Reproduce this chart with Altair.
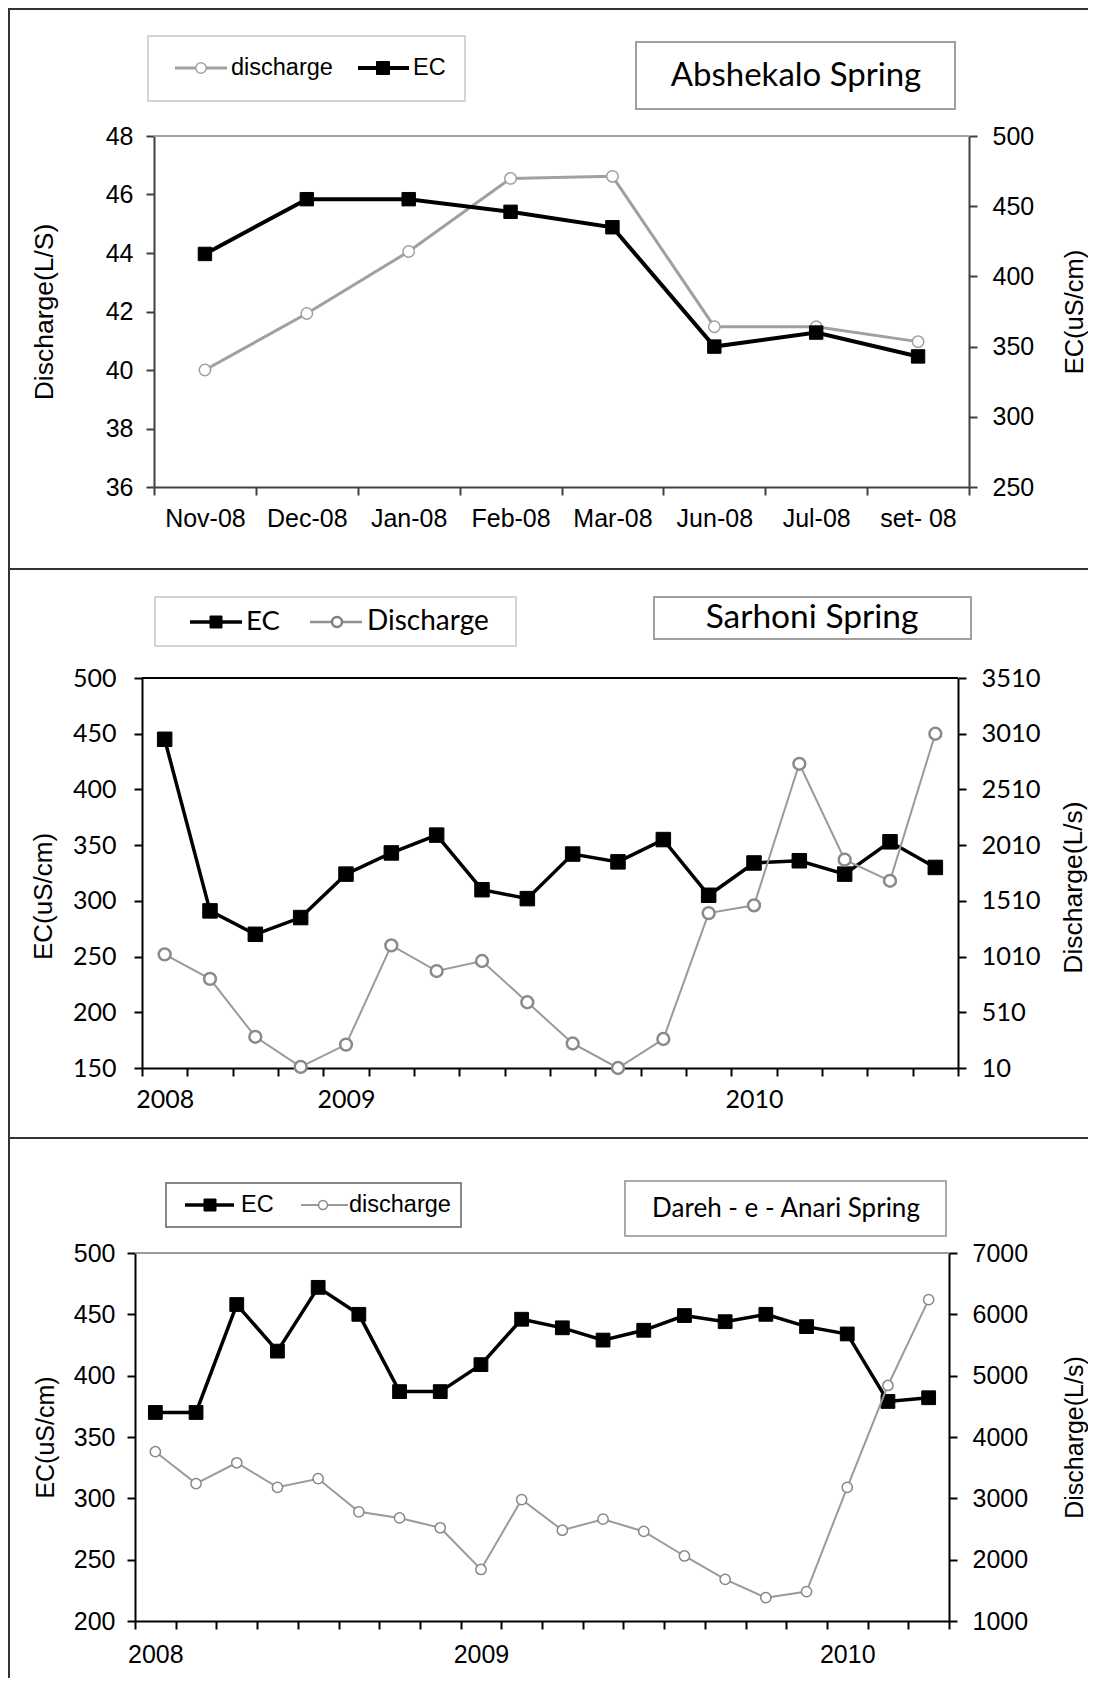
import altair as alt
import pandas as pd

# ---------------- data ----------------
abs_months = ["Nov-08", "Dec-08", "Jan-08", "Feb-08", "Mar-08", "Jun-08", "Jul-08", "set- 08"]
abs_discharge = [40.0, 41.93, 44.05, 46.55, 46.62, 41.48, 41.48, 40.97]
abs_ec = [416, 455, 455, 446, 435, 350, 360, 343]

sar_ec = [445, 291, 270, 285, 324, 343, 359, 310, 302, 342, 335, 355, 305, 334, 336, 324, 353, 330]
sar_discharge = [1030, 810, 290, 20, 220, 1110, 880, 970, 600, 230, 10, 270, 1400, 1470, 2740, 1880, 1690, 3010]
sar_tick_pos = [0, 4, 13]
sar_tick_labels = ["2008", "2009", "2010"]

dar_ec = [370, 370, 458, 420, 472, 450, 387, 387, 409, 446, 439, 429, 437, 449, 444, 450, 440, 434, 379, 382]
dar_discharge = [3760, 3240, 3580, 3180, 3320, 2780, 2680, 2520, 1840, 2980, 2480, 2660, 2460, 2060, 1680,
                 1380, 1480, 3180, 4840, 6240]
dar_tick_pos = [0, 8, 17]
dar_tick_labels = ["2008", "2009", "2010"]

abs_left_ticks = [36, 38, 40, 42, 44, 46, 48]
abs_right_ticks = [250, 300, 350, 400, 450, 500]
sar_left_ticks = [150, 200, 250, 300, 350, 400, 450, 500]
sar_right_ticks = [10, 510, 1010, 1510, 2010, 2510, 3010, 3510]
dar_left_ticks = [200, 250, 300, 350, 400, 450, 500]
dar_right_ticks = [1000, 2000, 3000, 4000, 5000, 6000, 7000]

# ---------------- layout helpers ----------------
ARIAL = "Liberation Sans"
CALIBRI = "Lato"
X0, XR = 135, 969          # page x of the common group origin / right edge
W = XR - X0
PAGE_RIGHT = 1088
one = pd.DataFrame({"k": [0]})


def label_expr(pos, labels):
    parts = [f"datum.value === {p} ? '{l}'" for p, l in zip(pos, labels)]
    return " : ".join(parts) + " : ''"


class Deco:
    def __init__(self, y0):
        self.y0 = y0

    def rect(self, x1, x2, y1, y2, fill, stroke=None, sw=0):
        kw = dict(fill=fill)
        if stroke:
            kw.update(stroke=stroke, strokeWidth=sw)
        return alt.Chart(one).mark_rect(**kw).encode(
            x=alt.value(x1 - X0), x2=alt.value(x2 - X0),
            y=alt.value(y1 - self.y0), y2=alt.value(y2 - self.y0))

    def text(self, s, x, y, font, size, align="left"):
        return alt.Chart(one).mark_text(text=s, font=font, fontSize=size, align=align,
                                        baseline="middle", color="black").encode(
            x=alt.value(x - X0), y=alt.value(y - self.y0))

    def hline(self, x1, x2, y, color, sw):
        return alt.Chart(one).mark_rule(color=color, strokeWidth=sw).encode(
            x=alt.value(x1 - X0), x2=alt.value(x2 - X0), y=alt.value(y - self.y0))

    def marker(self, x, y, shape, size, fill, stroke, sw):
        return alt.Chart(one).mark_point(shape=shape, size=size, filled=True, fill=fill, stroke=stroke,
                                         strokeWidth=sw, opacity=1).encode(
            x=alt.value(x - X0), y=alt.value(y - self.y0))


def x_enc(n, xl, xr, pos, labels, font, size, color, pad):
    vals = sorted([i - 0.5 for i in range(n + 1)] + list(pos))
    axis = alt.Axis(values=vals, labelExpr=label_expr(pos, labels),
                    tickOpacity={"condition": {"test": "datum.value % 1 !== 0", "value": 1}, "value": 0},
                    tickSize=8, tickWidth=2, tickColor=color, domainColor=color, domainWidth=2,
                    labelFont=font, labelFontSize=size, labelColor="black", labelPadding=pad,
                    labelBaseline="middle", labelOverlap=False, labelFlush=False, grid=False, title=None)
    return alt.X("idx:Q", scale=alt.Scale(domain=[-0.5, n - 0.5], range=[xl - X0, xr - X0], nice=False, zero=False),
                 axis=axis)


def y_axis(orient, values, font, size, color, offset, pad, title, tsize, tx, ty):
    return alt.Axis(orient=orient, values=values, format="d", offset=offset, grid=False, domainColor=color,
                    domainWidth=2, tickColor=color, tickWidth=2, tickSize=8, labelFont=font, labelFontSize=size,
                    labelColor="black", labelPadding=pad, labelFlush=False, labelOverlap=False,
                    title=title, titleFont=ARIAL, titleFontSize=tsize, titleFontWeight="normal",
                    titleColor="black", titleAngle=270, titleAlign="center", titleBaseline="middle",
                    titleX=tx, titleY=ty)


def series(df, field, xenc, dom, axis, lcolor, lw, shape, size, fill, stroke, sw):
    y = alt.Y(f"{field}:Q", scale=alt.Scale(domain=dom, nice=False, zero=False), axis=axis)
    line = alt.Chart(df).mark_line(color=lcolor, strokeWidth=lw).encode(x=xenc, y=y)
    pts = alt.Chart(df).mark_point(shape=shape, size=size, filled=True, fill=fill, stroke=stroke,
                                   strokeWidth=sw, opacity=1).encode(x=xenc, y=y)
    return alt.layer(line, pts)


def borders(d, top, nxt):
    return [d.rect(8, PAGE_RIGHT, top - 1, top + 1, "#333333"),
            d.rect(8, 10, top - 1, nxt - 1, "#333333")]


# ---------------- panel 1 : Abshekalo ----------------
Y1, H1 = 136, 351
L1 = 154
d1 = Deco(Y1)
df1 = pd.DataFrame({"idx": range(len(abs_months)), "dis": abs_discharge, "ec": abs_ec})
xe1 = x_enc(len(abs_months), L1, 969, list(range(len(abs_months))), abs_months, ARIAL, 25, "#404040", 23)
s1a = series(df1, "dis", xe1, [36, 48],
             y_axis("left", abs_left_ticks, ARIAL, 25, "#404040", -(L1 - X0), 13, "Discharge(L/S)", 26.5, -110, H1 / 2),
             "#a0a0a0", 3, "circle", 130, "white", "#a0a0a0", 1.5)
s1b = series(df1, "ec", xe1, [250, 500],
             y_axis("right", abs_right_ticks, ARIAL, 25, "#404040", 0, 15, "EC(uS/cm)", 25.5, 105, H1 / 2),
             "black", 4, "square", 180, "black", "black", 1)
p1 = alt.layer(
    *borders(d1, 9, 569),
    d1.rect(L1, 969, Y1 - 1, Y1 + 1, "#a0a0a0"),
    d1.rect(148, 465, 36, 101, "white", "#c8c8c8", 1.5),
    d1.hline(175, 227, 68, "#a0a0a0", 3),
    d1.marker(201, 68, "circle", 110, "white", "#a0a0a0", 1.5),
    d1.text("discharge", 231, 68, ARIAL, 23.5),
    d1.hline(358, 409, 68, "black", 4),
    d1.marker(383, 68, "square", 169, "black", "black", 1),
    d1.text("EC", 413, 68, ARIAL, 23.5),
    d1.rect(636, 955, 42, 109, "white", "#a0a0a0", 2),
    d1.text("Abshekalo Spring", 796, 76, CALIBRI, 33, "center"),
    s1a, s1b,
).resolve_scale(y="independent").properties(width=W, height=H1)

# ---------------- panel 2 : Sarhoni ----------------
Y2, H2 = 678, 390
L2, R2 = 142, 958
d2 = Deco(Y2)
df2 = pd.DataFrame({"idx": range(len(sar_ec)), "ec": sar_ec, "dis": sar_discharge})
xe2 = x_enc(len(sar_ec), L2, R2, sar_tick_pos, sar_tick_labels, CALIBRI, 25, "black", 23)
s2a = series(df2, "ec", xe2, [150, 500],
             y_axis("left", sar_left_ticks, CALIBRI, 25, "black", -(L2 - X0), 18, "EC(uS/cm)", 26, -99, 218),
             "black", 3.5, "square", 210, "black", "black", 1)
s2b = series(df2, "dis", xe2, [10, 3510],
             y_axis("right", sar_right_ticks, CALIBRI, 25.5, "black", R2 - XR, 15, "Discharge(L/s)", 26.5, 115, 209),
             "#9a9a9a", 2, "circle", 140, "white", "#8a8a8a", 2.5)
p2 = alt.layer(
    *borders(d2, 569, 1138),
    d2.rect(L2, R2, Y2 - 1, Y2 + 1, "black"),
    d2.rect(155, 516, 597, 646, "white", "#c8c8c8", 1.5),
    d2.hline(190, 242, 622, "black", 3.5),
    d2.marker(216, 622, "square", 144, "black", "black", 1),
    d2.text("EC", 246, 622, CALIBRI, 27.5),
    d2.hline(310, 362, 622, "#909090", 2.5),
    d2.marker(337, 622, "circle", 100, "white", "#808080", 2.5),
    d2.text("Discharge", 367, 622, CALIBRI, 28),
    d2.rect(654, 971, 597, 639, "white", "#a0a0a0", 2),
    d2.text("Sarhoni Spring", 812, 618, CALIBRI, 33.5, "center"),
    s2a, s2b,
).resolve_scale(y="independent").properties(width=W, height=H2)

# ---------------- panel 3 : Dareh-e-Anari ----------------
Y3, H3 = 1253, 368
L3, R3 = 135, 949
d3 = Deco(Y3)
df3 = pd.DataFrame({"idx": range(len(dar_ec)), "ec": dar_ec, "dis": dar_discharge})
xe3 = x_enc(len(dar_ec), L3, R3, dar_tick_pos, dar_tick_labels, ARIAL, 25, "black", 25)
s3a = series(df3, "ec", xe3, [200, 500],
             y_axis("left", dar_left_ticks, ARIAL, 25, "black", -(L3 - X0), 12, "EC(uS/cm)", 25, -90, H3 / 2),
             "black", 3.5, "square", 190, "black", "black", 1)
s3b = series(df3, "dis", xe3, [1000, 7000],
             y_axis("right", dar_right_ticks, ARIAL, 25, "black", R3 - XR, 15, "Discharge(L/s)", 25, 125, H3 / 2),
             "#9a9a9a", 2, "circle", 105, "white", "#888888", 1.5)
p3 = alt.layer(
    *borders(d3, 1138, 1679),
    d3.rect(L3, R3, Y3 - 1, Y3 + 1, "#999999"),
    d3.rect(166, 461, 1183, 1227, "white", "#606060", 1.5),
    d3.hline(185, 234, 1205, "black", 3.5),
    d3.marker(210, 1205, "square", 144, "black", "black", 1),
    d3.text("EC", 241, 1205, ARIAL, 23.5),
    d3.hline(301, 348, 1205, "#9a9a9a", 2),
    d3.marker(323, 1205, "circle", 80, "white", "#888888", 1.5),
    d3.text("discharge", 349, 1205, ARIAL, 23.5),
    d3.rect(625, 946, 1181, 1236, "white", "#aaaaaa", 2),
    d3.text("Dareh - e - Anari Spring", 786, 1209, CALIBRI, 26, "center"),
    s3a, s3b,
).resolve_scale(y="independent").properties(width=W, height=H3)

chart = alt.vconcat(p1, p2, p3, spacing=0).properties(padding=0, background="white").configure_view(strokeWidth=0)
chart.save("out.html", embed_options={"renderer": "svg", "actions": False})
